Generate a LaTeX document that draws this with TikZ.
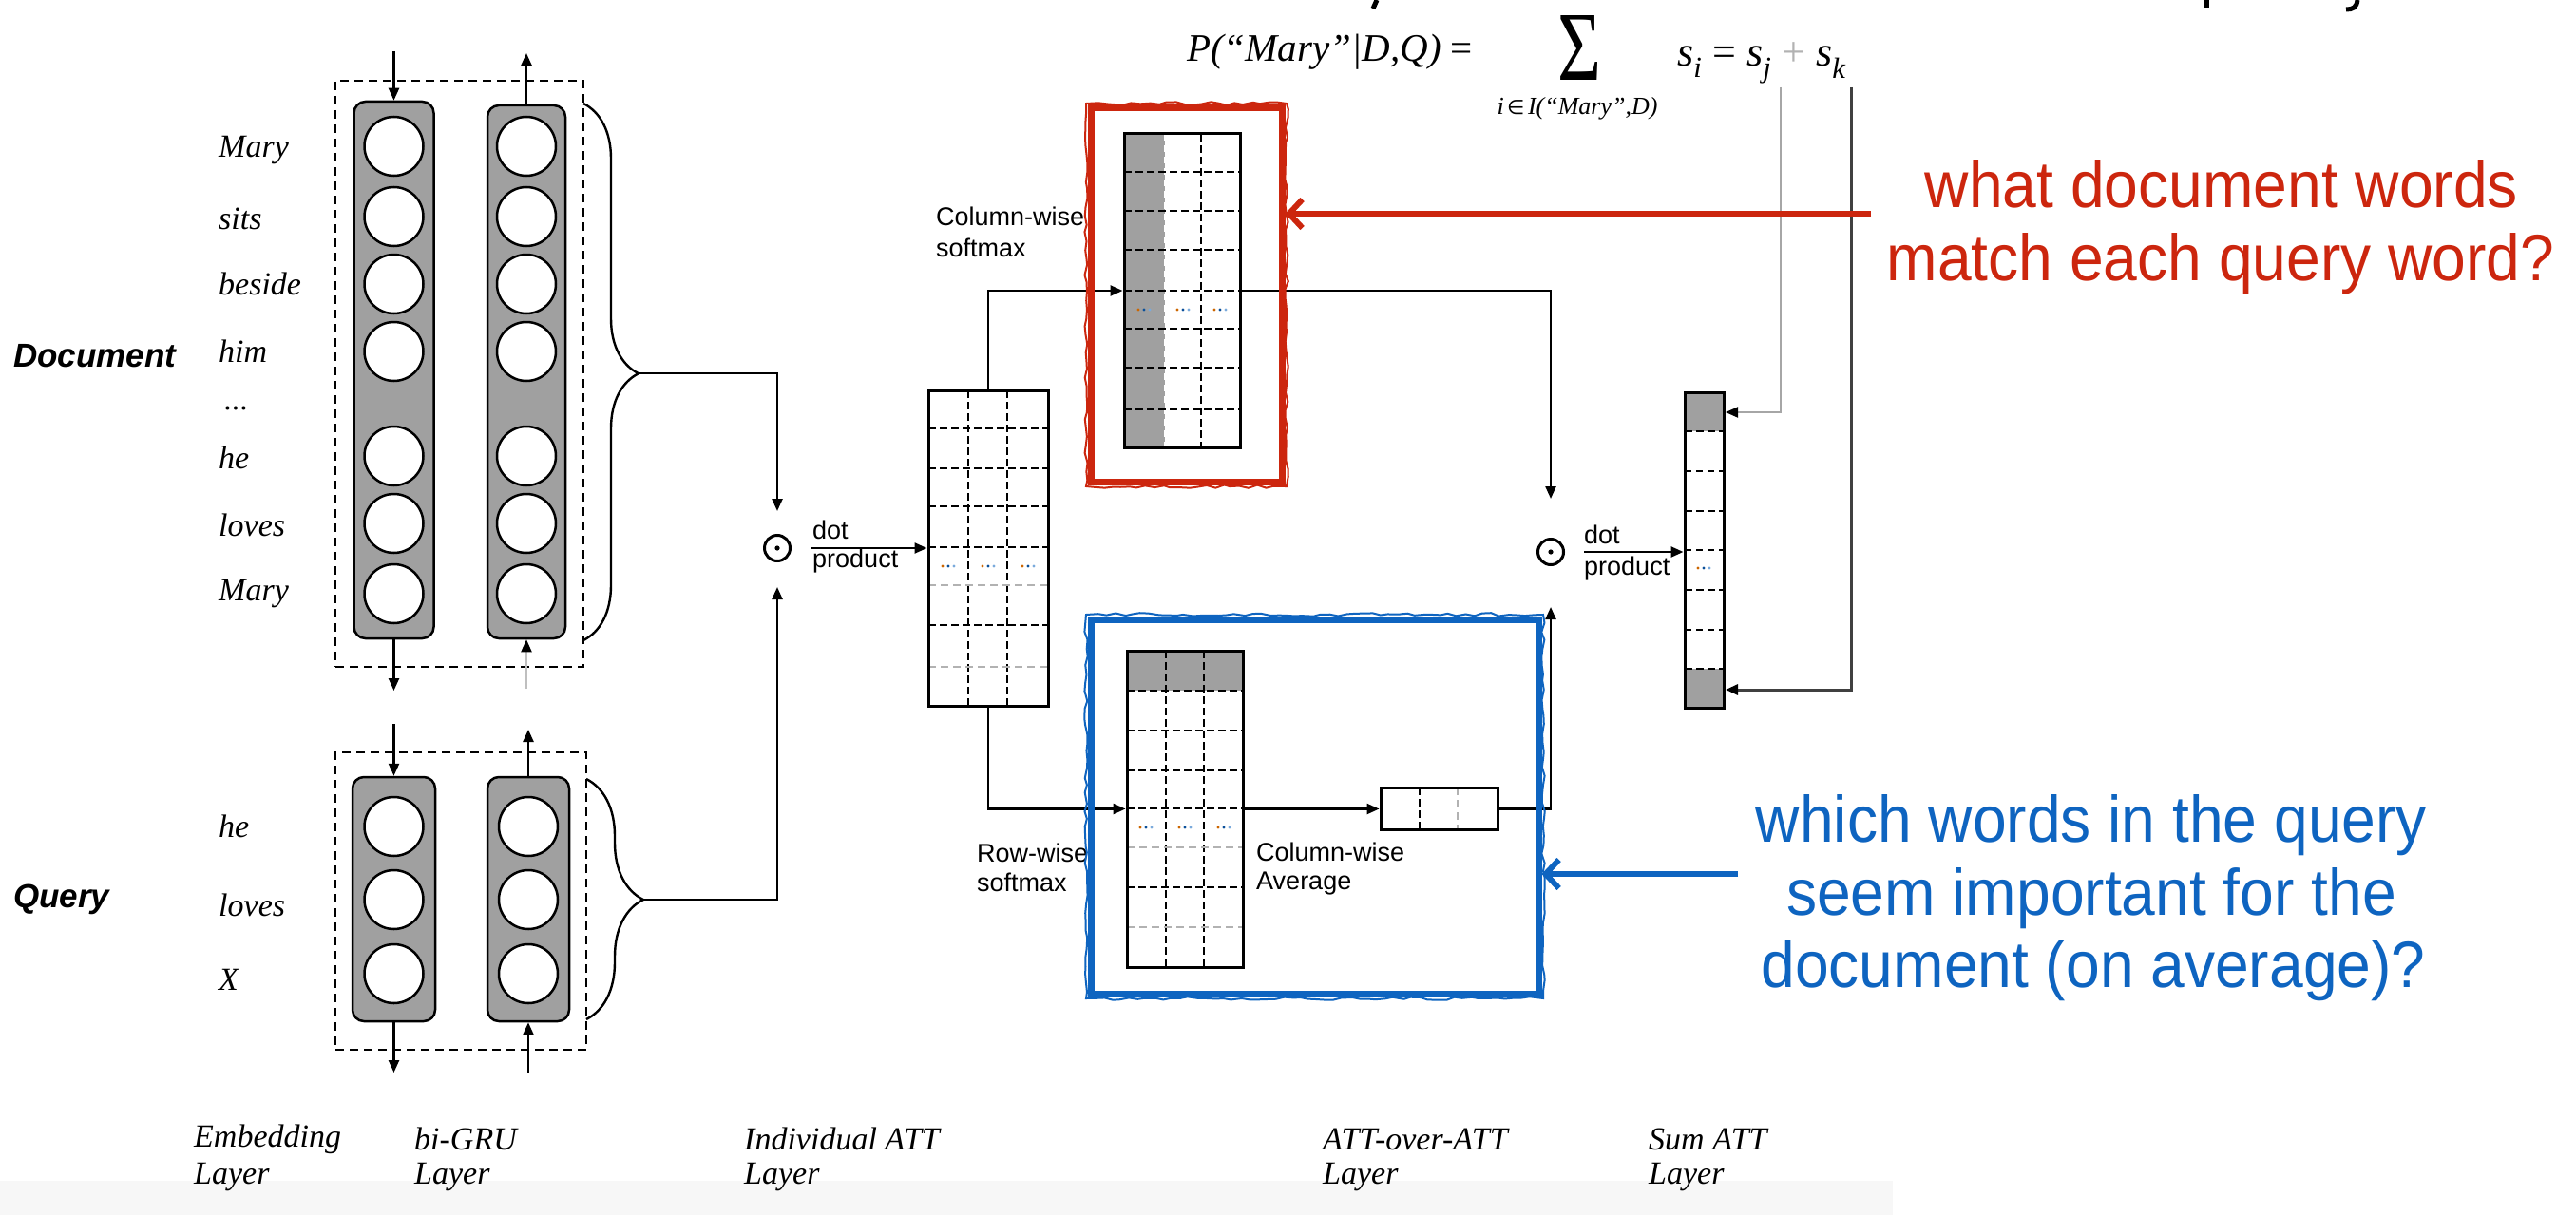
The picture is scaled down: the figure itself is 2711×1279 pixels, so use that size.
\documentclass[tikz,border=0pt]{standalone}
\usepackage{fontspec}
\setmainfont{Liberation Serif}
\newfontfamily\hlv{Liberation Sans}
\newfontfamily\hlvn[FakeStretch=0.93]{Liberation Sans}
\newfontfamily\dvs{DejaVu Sans}
\usetikzlibrary{arrows.meta,decorations.pathreplacing,decorations.pathmorphing,calc}
\definecolor{redc}{RGB}{204,38,14}
\definecolor{bluec}{RGB}{14,100,192}
\definecolor{barg}{RGB}{160,160,160}
\definecolor{bandg}{RGB}{247,247,247}
\newcommand{\fs}[1]{\fontsize{#1}{#1}\selectfont}
\newcommand{\mdots}[2]{%
  \fill[orange!80!black] (#1-6,#2) circle (1.7pt);
  \fill[bluec!80!black] (#1,#2) circle (1.7pt);
  \fill[bluec!55] (#1+6,#2) circle (1.7pt);}
\begin{document}
\begin{tikzpicture}[x=1pt,y=-1pt,
  tip/.style={-{Triangle[length=13pt,width=11pt]}},
  conn/.style={line width=2.4pt, tip},
  bar/.style={draw, line width=2.5pt, fill=barg, rounded corners=12pt, inner sep=0pt},
  unit/.style={circle, draw, line width=2.5pt, fill=white, minimum size=62pt, inner sep=0pt},
  dbox/.style={draw, line width=2pt, dash pattern=on 9pt off 6pt, inner sep=0pt},
  mat/.style={draw, line width=3pt, inner sep=0pt},
  dd/.style={line width=2.4pt, dash pattern=on 8pt off 4pt},
  dt/.style={line width=1.6pt, dash pattern=on 7pt off 5pt},
  dl/.style={line width=2pt, dash pattern=on 8pt off 5pt, black!30},
  word/.style={anchor=west, inner sep=0pt, font={\fs{34}\itshape}},
  lbl/.style={anchor=west, inner sep=0pt, font={\hlv\fs{27}}},
  dotop/.style={circle, draw, line width=3pt, minimum size=27pt, inner sep=0pt},
  note/.style={inner sep=0pt, anchor=base, font={\hlvn\fs{69}}},
  brc/.style={decorate, line width=2.4pt},
]
\useasboundingbox (0,0) rectangle (2711,1279);
\fill[white] (0,0) rectangle (2711,1279);
\fill[bandg] (0,1243) rectangle (1992,1279);
\pgfmathsetseed{11}

% cut-off descenders at the top edge
\draw[line width=5pt] (1449,0) -- (1445,9);
\draw[line width=6pt] (2322,0) -- (2322,8);
\draw[line width=5pt] (2481,0) .. controls (2480,8) and (2476,10) .. (2469,10);

% ---------- Document side ----------
\node[dbox, minimum width=261pt, minimum height=617pt] (dD) at (483.5,393.5) {};
\node[bar, minimum width=84pt, minimum height=565pt] (dL) at (414.5,389.5) {};
\node[bar, minimum width=82pt, minimum height=561pt] (dR) at (554,391.5) {};
\foreach \y in {154,228,299,370,480,551,625} {
  \node[unit] (dl\y) at (414.5,\y) {};
  \node[unit] (dr\y) at (554,\y) {};
}
\node[word] (w1) at (230,158) {Mary};
\node[word] (w2) at (230,230) {sits};
\node[word] (w3) at (230,299) {beside};
\node[word] (w4) at (230,370) {him};
\node[word] (w5) at (236,430) {...};
\node[word] (w6) at (230,482) {he};
\node[word] (w7) at (230,553) {loves};
\node[word] (w8) at (230,625) {Mary};
\node[anchor=west, inner sep=0pt, font={\hlv\fs{35}\bfseries\itshape}] (doclab) at (14,375) {Document};

\coordinate (dLin) at (414.5,54);
\coordinate (dRout) at (554,56);
\coordinate (dLout) at (414.5,727);
\coordinate (dRin) at (554,725);
\draw[conn] (dLin) -- (dL.north);
\draw[conn] (dR.north) -- (dRout);
\draw[conn] (dL.south) -- (dLout);
\draw[line width=2pt, black!25, -{Triangle[length=13pt,width=11pt,color=black]}] (dRin) -- (dR.south);

\draw[brc, decoration={brace, amplitude=58pt, aspect=0.503}] (614,109) -- (614,674);
\coordinate (dtip) at (672,393);

% ---------- Query side ----------
\node[dbox, minimum width=264pt, minimum height=313pt] (qD) at (485,948.5) {};
\node[bar, minimum width=87pt, minimum height=257pt] (qL) at (414.5,946.5) {};
\node[bar, minimum width=86pt, minimum height=257pt] (qR) at (556,946.5) {};
\foreach \y in {870,947,1025} {
  \node[unit] (ql\y) at (414.5,\y) {};
  \node[unit] (qr\y) at (556,\y) {};
}
\node[word] (q1) at (230,870) {he};
\node[word] (q2) at (230,953) {loves};
\node[word] (q3) at (230,1031) {X};
\node[anchor=west, inner sep=0pt, font={\hlv\fs{35}\bfseries\itshape}] (qlab) at (14,947) {Query};

\coordinate (qLin) at (414.5,762);
\coordinate (qRout) at (556,768);
\coordinate (qLout) at (414.5,1129);
\coordinate (qRin) at (556,1129);
\draw[conn] (qLin) -- (qL.north);
\draw[conn] (qR.north) -- (qRout);
\draw[conn] (qL.south) -- (qLout);
\draw[conn] (qRin) -- (qR.south);

\draw[brc, decoration={brace, amplitude=60pt, aspect=0.502}] (617,820) -- (617,1073);
\coordinate (qtip) at (677,947);

% ---------- first dot product ----------
\node[dotop] (dot1) at (818,577) {};
\fill (dot1.center) circle (2.6pt);
\draw[conn, shorten >=24pt] (dtip) -| (dot1.north);
\draw[conn, shorten >=26pt] (qtip) -| (dot1.south);
\node[lbl] (d1a) at (855,558) {dot};
\node[lbl] (d1b) at (855,591) {product};

% ---------- Individual ATT matrix ----------
\foreach \x in {1019,1060} \draw[dd] (\x,411) -- (\x,743);
\foreach \y in {451,493,533,576,658} \draw[dd] (977,\y) -- (1103,\y);
\foreach \y in {616,702} \draw[dl] (977,\y) -- (1103,\y);
\mdots{998}{596} \mdots{1040}{596} \mdots{1082}{596}
\node[mat, minimum width=126pt, minimum height=332pt] (M1) at (1040,577) {};
\draw[conn, shorten <=21pt] (dot1.east) -- (M1.west);

% ---------- Column-wise softmax matrix ----------
\fill[barg] (1183,141) rectangle (1226,471);
\draw[dt, white] (1226,141) -- (1226,471);
\draw[dd] (1264,141) -- (1264,471);
\foreach \y in {181,222,263,306,346,387,431} \draw[dd] (1183,\y) -- (1305,\y);
\mdots{1204}{326} \mdots{1245}{326} \mdots{1284}{326}
\node[mat, minimum width=122pt, minimum height=330pt] (M2) at (1244,306) {};
\node[lbl] (cs1) at (985,228) {Column-wise};
\node[lbl] (cs2) at (985,261) {softmax};

% ---------- Row-wise softmax matrix ----------
\fill[barg] (1186,685) rectangle (1308,727);
\foreach \x in {1227,1267} \draw[dd] (\x,685) -- (\x,1018);
\foreach \y in {727,769,811,851,934} \draw[dd] (1186,\y) -- (1308,\y);
\foreach \y in {892,976} \draw[dl] (1186,\y) -- (1308,\y);
\mdots{1206}{871} \mdots{1247}{871} \mdots{1288}{871}
\node[mat, minimum width=122pt, minimum height=333pt] (M3) at (1247,851.5) {};
\node[lbl] (rs1) at (1028,898) {Row-wise};
\node[lbl] (rs2) at (1028,929) {softmax};

% ---------- column-wise average vector ----------
\draw[dd] (1494,829) -- (1494,873);
\draw[dl] (1534,829) -- (1534,873);
\node[mat, minimum width=123pt, minimum height=44pt] (V) at (1514.5,851.5) {};
\node[lbl] (ca1) at (1322,897) {Column-wise};
\node[lbl] (ca2) at (1322,930) {Average};

% ---------- second dot product ----------
\node[dotop] (dot2) at (1632,581) {};
\fill (dot2.center) circle (2.6pt);
\node[lbl] (d2a) at (1667,563) {dot};
\node[lbl] (d2b) at (1667,599) {product};

% ---------- Sum ATT vector ----------
\fill[barg] (1773,413) rectangle (1814,454);
\fill[barg] (1773,704) rectangle (1814,745);
\foreach \y in {454,538,621,704} \draw[dd] (1773,\y) -- (1814,\y);
\foreach \y in {496,579,663} \draw[dt] (1773,\y) -- (1814,\y);
\mdots{1793}{598}
\node[mat, minimum width=41pt, minimum height=332pt] (S) at (1793.5,579) {};

% ---------- connectors between matrices ----------
\draw[conn] (M1.north) |- (M2.west);
\draw[conn, shorten >=41pt] (M2.east) -| (dot2.north);
\draw[conn] (M1.south) |- (M3.west);
\draw[conn] (M3.east) -- (V.west);
\draw[conn, shorten >=43pt] (V.east) -| (dot2.south);
\draw[conn, shorten <=20pt] (dot2.east) -- (S.west |- dot2.east);

% ---------- formula ----------
\node[anchor=base west, inner sep=0pt, font={\fs{41}\itshape}] (fP) at (1249,65) {P(“Mary”|D,Q) {\upshape=}};
\node[inner sep=0pt] (sig) at (1662,50) {\resizebox{46pt}{68pt}{\raisebox{0pt}[\height][0pt]{\fs{60}Σ}}};
\node[anchor=base, inner sep=0pt, font={\fs{26}\itshape}] (sub) at (1660,121) {i{\dvs\upshape\fs{21}\,∈\,}I(“Mary”,D)};
\node[anchor=base west, inner sep=0pt, font={\fs{44}\itshape}] (sf) at (1765,70) {s\textsubscript{i} {\upshape=} s\textsubscript{j} {\color{black!30}\upshape+} s\textsubscript{k}};
\coordinate (sjtop) at (1874,92);
\coordinate (sktop) at (1948,92);
\coordinate (Stop) at (1816,434);
\coordinate (Sbot) at (1816,726);
\draw[line width=2pt, black!35, -{Triangle[length=13pt,width=11pt,color=black]}] (sjtop) |- (Stop);
\draw[line width=3pt, black!75, -{Triangle[length=13pt,width=11pt,color=black]}] (sktop) |- (Sbot);

% ---------- highlight boxes ----------
\node[draw=redc, line width=7pt, minimum width=201pt, minimum height=393pt, inner sep=0pt] (rbox) at (1248.5,310.5) {};
\draw[redc, line width=2pt, decorate, decoration={random steps, segment length=9pt, amplitude=1.8pt}] (1143,109) rectangle (1354,512);
\node[draw=bluec, line width=7pt, minimum width=471pt, minimum height=394pt, inner sep=0pt] (bbox) at (1383.5,849) {};
\draw[bluec, line width=2pt, decorate, decoration={random steps, segment length=9pt, amplitude=1.8pt}] (1143,647) rectangle (1624,1051);

\coordinate (rtail) at (1969,225);
\coordinate (btail) at (1829,920);
\draw[redc, line width=6pt, -{Straight Barb[length=14pt,width=30pt]}] (rtail) -- (rbox.east |- rtail);
\draw[bluec, line width=6pt, -{Straight Barb[length=14pt,width=30pt]}] (btail) -- (bbox.east |- btail);

\node[note, text=redc] (rn1) at (2338,218) {what document words};
\node[note, text=redc] (rn2) at (2337,295) {match each query word?};
\node[note, text=bluec] (bn1) at (2201,886) {which words in the query};
\node[note, text=bluec] (bn2) at (2201,963) {seem important for the};
\node[note, text=bluec] (bn3) at (2203,1039) {document (on average)?};

% ---------- layer labels ----------
\node[word] (L1a) at (204,1199) {Embedding};
\node[word] (L1b) at (204,1239) {Layer};
\node[word] (L2a) at (436,1199) {bi-GRU};
\node[word] (L2b) at (436,1239) {Layer};
\node[word] (L3a) at (783,1199) {Individual ATT};
\node[word] (L3b) at (783,1239) {Layer};
\node[word] (L4a) at (1392,1199) {ATT-over-ATT};
\node[word] (L4b) at (1392,1239) {Layer};
\node[word] (L5a) at (1735,1199) {Sum ATT};
\node[word] (L5b) at (1735,1239) {Layer};
\end{tikzpicture}
\end{document}
